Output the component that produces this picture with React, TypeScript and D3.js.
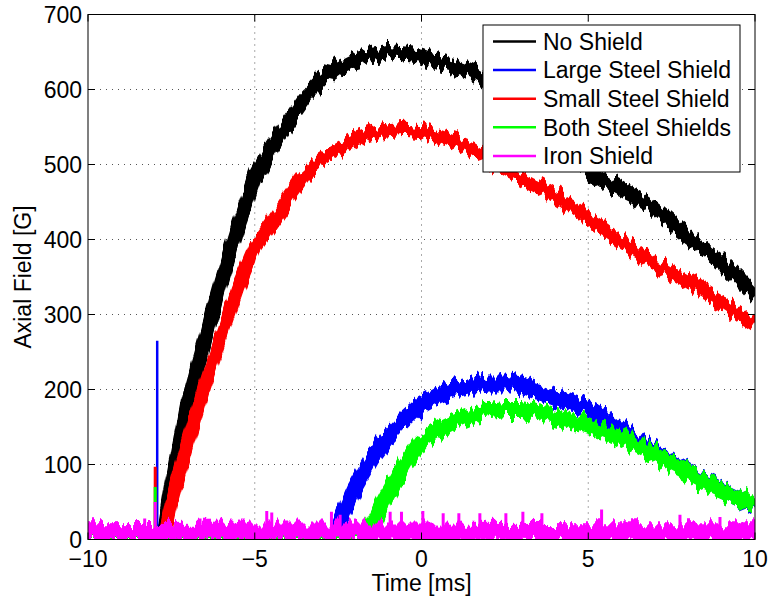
import React from "react";
import * as d3 from "d3";

// ---- data ----
const seriesNames = ["No Shield", "Large Steel Shield", "Small Steel Shield", "Both Steel Shields", "Iron Shield"];
const seriesColors = ["#000000", "#0000ff", "#ff0000", "#00ff00", "#ff00ff"];

const noShieldT = [-10, -8, -7.75, -7.5, -7, -6.5, -6, -5.5, -5, -4.5, -4, -3.5, -3, -2.5, -2, -1.5, -1, -0.5, 0, 0.5, 1, 1.5, 2, 2.5, 3, 3.5, 4, 4.5, 5, 5.5, 6, 6.5, 7, 7.5, 8, 8.5, 9, 9.5, 10];
const noShieldV = [6, 6, 8, 73, 186, 266, 346, 419, 482, 522, 557, 589, 612, 629, 640, 646, 650, 648, 645, 637, 631, 623, 610, 594, 576, 558, 538, 516, 493, 478, 466, 455, 440, 421, 403, 386, 370, 350, 326];

const largeT = [-10, -2.6, -2.5, -2, -1.5, -1, -0.5, 0, 0.5, 1, 1.5, 2, 2.5, 3, 3.5, 4, 4.5, 5, 5.5, 6, 6.5, 7, 7.5, 8, 8.5, 9, 9.5, 10];
const largeV = [8, 8, 18, 68, 107, 137, 160, 180, 192, 200, 205, 208, 208, 204, 197, 189, 183, 175, 163, 145, 130, 116, 102, 89, 77, 66, 55, 42];

const smallT = [-10, -8, -7.7, -7.5, -7, -6.5, -6, -5.5, -5, -4.5, -4, -3.5, -3, -2.5, -2, -1.5, -1, -0.5, 0, 0.5, 1, 1.5, 2, 2.5, 3, 3.5, 4, 4.5, 5, 5.5, 6, 6.5, 7, 7.5, 8, 8.5, 9, 9.5, 10];
const smallV = [6, 6, 8, 50, 130, 205, 272, 337, 390, 422, 455, 486, 506, 520, 532, 540, 545, 547, 545, 538, 531, 521, 507, 494, 483, 471, 458, 444, 428, 413, 397, 382, 368, 355, 342, 329, 316, 301, 286];

const bothT = [-10, -1.6, -1.5, -1, -0.5, 0, 0.5, 1, 1.5, 2, 2.5, 3, 3.5, 4, 4.5, 5, 5.5, 6, 6.5, 7, 7.5, 8, 8.5, 9, 9.5, 10];
const bothV = [6, 6, 18, 62, 101, 131, 146, 157, 166, 171, 174, 174, 170, 165, 158, 152, 144, 135, 125, 113, 100, 88, 76, 65, 55, 44];

const ironT = [-10, -5, 0, 5, 10];
const ironV = [9, 10, 10, 9, 9];

// transient spike near t = -7.97 ms (peak of each trace)
const spikeTime = -7.97;
const spikePeaks = [0, 265, 97, 70, 50];

// tallest noise spikes of the iron-shield trace
const ironSpikeT = [-8.3, -6.64, -4.64, -4.49, -2.7, -2.44, -0.94, -0.6, 0.04, 0.65, 1.12, 1.75, 2.53, 3.04, 3.61, 5.4, 7.75, 8.95];
const ironSpikeV = [28, 28, 38, 36, 37, 33, 37, 37, 38, 35, 35, 35, 35, 37, 35, 40, 33, 30];

const xTicks = [-10, -5, 0, 5, 10];
const yTicks = [0, 100, 200, 300, 400, 500, 600, 700];

const FONT = "'Liberation Sans', Arial, Helvetica, sans-serif";

export default function App() {
  const W = 768, H = 600;
  const left = 88, right = 755, top = 14.5, bottom = 539.5;
  const x = d3.scaleLinear().domain([-10, 10]).range([left, right]);
  const y = d3.scaleLinear().domain([0, 700]).range([bottom, top]);

  const series = [
    { t: noShieldT, v: noShieldV, w: 14 },
    { t: largeT, v: largeV, w: 16 },
    { t: smallT, v: smallV, w: 13 },
    { t: bothT, v: bothV, w: 16 },
    { t: ironT, v: ironV, w: 19 },
  ];

  const line = d3
    .line<[number, number]>()
    .x((d) => x(d[0]))
    .y((d) => y(d[1]));

  const legendRows = seriesNames.map((n, i) => ({ n, c: seriesColors[i], cy: 41.5 + i * 28.6 }));

  return (
    <svg
      width={W}
      height={H}
      style={{ position: "absolute", left: 0, top: 0, background: "#fff" }}
      fontFamily={FONT}
    >
      <defs>
        <clipPath id="plotclip">
          <rect x={left} y={top} width={right - left} height={bottom - top} />
        </clipPath>
        {/* rendering texture: vertical jitter of the thick trace edges */}
        <filter
          id="jitter"
          filterUnits="userSpaceOnUse"
          x={0}
          y={0}
          width={W}
          height={H}
          colorInterpolationFilters="sRGB"
        >
          <feTurbulence type="fractalNoise" baseFrequency="0.22 0.02" numOctaves={2} seed={5} result="noise" />
          <feColorMatrix
            in="noise"
            type="matrix"
            values="0 0 0 0 0.5  0 1 0 0 0  0 0 0 0 0  0 0 0 0 1"
            result="vnoise"
          />
          <feDisplacementMap in="SourceGraphic" in2="vnoise" scale={22} xChannelSelector="R" yChannelSelector="G" />
        </filter>
      </defs>
      <rect x={0} y={0} width={W} height={H} fill="#fff" />

      {/* grid */}
      <g stroke="#555" strokeWidth={1} strokeDasharray="1 5">
        {xTicks.slice(1, -1).map((t) => (
          <line key={"gx" + t} x1={x(t)} x2={x(t)} y1={top} y2={bottom} />
        ))}
        {yTicks.slice(1, -1).map((v) => (
          <line key={"gy" + v} x1={left} x2={right} y1={y(v)} y2={y(v)} />
        ))}
      </g>

      {/* traces */}
      <g clipPath="url(#plotclip)">
        {series.map((s, i) => (
          <g key={"s" + i}>
            <path
              d={line(s.t.map((t, k) => [t, s.v[k]] as [number, number])) || ""}
              fill="none"
              stroke={seriesColors[i]}
              strokeWidth={s.w}
              strokeLinejoin="round"
              filter="url(#jitter)"
            />
            {spikePeaks[i] > 0 && (
              <line
                x1={x(spikeTime) + (i === 1 ? 1.5 : -0.5)}
                x2={x(spikeTime) + (i === 1 ? 1.5 : -0.5)}
                y1={y(0)}
                y2={y(spikePeaks[i])}
                stroke={seriesColors[i]}
                strokeWidth={i === 1 ? 2.5 : 3}
              />
            )}
            {i === 4 &&
              ironSpikeT.map((t, k) => (
                <line
                  key={"sp" + k}
                  x1={x(t)}
                  x2={x(t)}
                  y1={y(5)}
                  y2={y(ironSpikeV[k])}
                  stroke={seriesColors[4]}
                  strokeWidth={3}
                />
              ))}
          </g>
        ))}
      </g>

      {/* axes box and ticks */}
      <g stroke="#000" strokeWidth={1} fill="none">
        <rect x={left} y={top} width={right - left} height={bottom - top} />
        {xTicks.map((t) => (
          <g key={"tx" + t}>
            <line x1={x(t)} x2={x(t)} y1={bottom} y2={bottom - 7} />
            <line x1={x(t)} x2={x(t)} y1={top} y2={top + 7} />
          </g>
        ))}
        {yTicks.map((v) => (
          <g key={"ty" + v}>
            <line x1={left} x2={left + 7} y1={y(v)} y2={y(v)} />
            <line x1={right} x2={right - 7} y1={y(v)} y2={y(v)} />
          </g>
        ))}
      </g>

      {/* tick labels */}
      <g fontSize={23} fill="#000">
        {xTicks.map((t) => (
          <text key={"lx" + t} x={x(t)} y={567} textAnchor="middle">
            {t < 0 ? "\u2212" + Math.abs(t) : String(t)}
          </text>
        ))}
        {yTicks.map((v) => (
          <text key={"ly" + v} x={82} y={y(v) + 8} textAnchor="end">
            {v}
          </text>
        ))}
      </g>

      {/* axis labels */}
      <text x={(left + right) / 2} y={591} textAnchor="middle" fontSize={23}>
        Time [ms]
      </text>
      <text transform={`translate(31,${(top + bottom) / 2}) rotate(-90)`} textAnchor="middle" fontSize={23}>
        Axial Field [G]
      </text>

      {/* legend */}
      <g>
        <rect x={483} y={25} width={257} height={147} fill="#fff" stroke="#000" strokeWidth={1} />
        {legendRows.map((r) => (
          <g key={r.n}>
            <line x1={493} x2={536} y1={r.cy} y2={r.cy} stroke={r.c} strokeWidth={2.5} />
            <text x={543} y={r.cy + 8.3} fontSize={23} fill="#000">
              {r.n}
            </text>
          </g>
        ))}
      </g>
    </svg>
  );
}
